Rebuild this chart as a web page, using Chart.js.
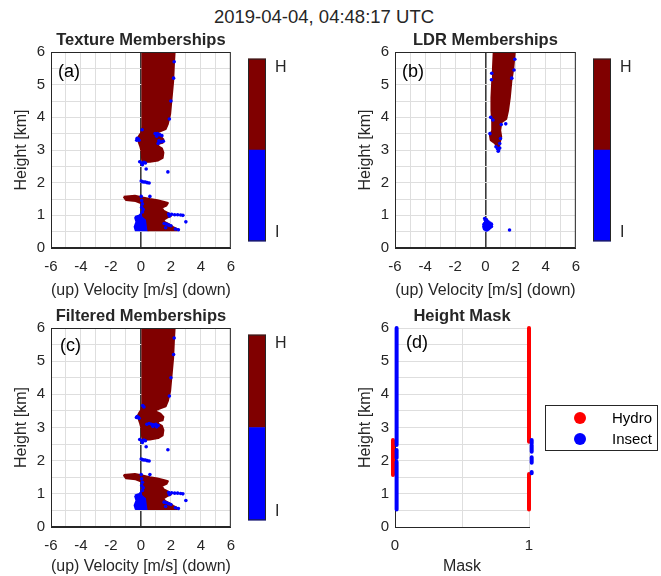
<!DOCTYPE html>
<html>
<head>
<meta charset="utf-8">
<script src="https://cdn.jsdelivr.net/npm/chart.js@4/dist/chart.umd.min.js"></script>
<style>
  body { margin: 0; width: 661px; height: 576px; position: relative; overflow: hidden; background: #fff;
         font-family: "Liberation Sans", Arial, sans-serif; }
  canvas { position: absolute; }
  #mainTitle { position: absolute; left: 0; width: 648px; top: 6px; text-align: center; font-size: 18.5px; color: #262626; }
</style>
</head>
<body>
<div id="mainTitle">2019-04-04, 04:48:17 UTC</div>
<canvas id="texture" width="245" height="300" style="left:0;top:0"></canvas>
<canvas id="textureBar" width="50" height="220" style="left:245px;top:40px"></canvas>
<canvas id="ldr" width="246" height="300" style="left:344px;top:0"></canvas>
<canvas id="ldrBar" width="50" height="220" style="left:590px;top:40px"></canvas>
<canvas id="filtered" width="245" height="300" style="left:0;top:276px"></canvas>
<canvas id="filteredBar" width="50" height="223" style="left:245px;top:316px"></canvas>
<canvas id="mask" width="317" height="300" style="left:344px;top:276px"></canvas>
<script>
'use strict';

// ---- data: [velocity m/s, height km] ----
// (a) texture memberships, hydro cloud outlines
var textureHydroUpper = [
  [0.1, 6.0], [2.25, 6.0], [2.2, 5.6], [2.15, 5.1], [2.05, 4.6], [1.95, 4.1], [1.8, 3.8], [1.65, 3.64], [1.2, 3.56], [0.9, 3.52],
  [1.05, 3.47], [1.3, 3.42], [1.5, 3.32], [1.45, 3.22], [1.1, 3.18], [1.2, 3.1], [1.4, 3.05], [1.5, 2.92], [1.45, 2.76],
  [1.15, 2.68], [0.6, 2.64], [0.15, 2.63], [0.08, 2.72], [0.05, 2.95], [-0.05, 3.12], [-0.15, 3.25], [-0.22, 3.35],
  [-0.1, 3.45], [0.05, 3.55], [0.1, 3.7], [0.1, 4.5], [0.1, 5.3], [0.1, 6.0]
];
var textureHydroLower = [
  [-1.15, 1.57], [-0.4, 1.6], [0.1, 1.55], [0.6, 1.5], [1.1, 1.46], [1.5, 1.42], [1.8, 1.38], [1.7, 1.3], [1.4, 1.24],
  [1.5, 1.14], [1.85, 1.06], [2.0, 0.98], [1.75, 0.93], [1.5, 0.86], [1.6, 0.79], [1.9, 0.72], [2.15, 0.64], [2.45, 0.57],
  [2.4, 0.54], [1.4, 0.54], [0.5, 0.54], [0.45, 0.7], [0.4, 0.88], [0.15, 0.98], [0.1, 1.15], [0.08, 1.36], [-0.35, 1.44],
  [-1.0, 1.47], [-1.15, 1.57]
];
var textureInsectPatch = [
  [-0.4, 0.95], [-0.1, 1.0], [0.1, 1.1], [0.2, 1.0], [0.45, 0.9], [0.5, 0.7], [0.45, 0.54], [-0.35, 0.54], [-0.42, 0.65],
  [-0.3, 0.8], [-0.4, 0.95]
];
var textureInsect = [
  [2.22, 5.7], [2.18, 5.2], [2.0, 4.5], [1.9, 3.95],
  [0.08, 3.62], [-0.25, 3.36], [-0.18, 3.34], [-0.28, 3.3], [-0.12, 3.3],
  [0.95, 3.5], [1.1, 3.5], [1.25, 3.47], [1.4, 3.44], [1.05, 3.42], [1.2, 3.28], [1.35, 3.25], [1.5, 3.27], [1.15, 3.2],
  [-0.08, 2.64], [0.05, 2.6], [0.2, 2.62], [0.3, 2.6], [0.1, 2.55], [0.35, 2.42], [1.8, 2.33],
  [0.02, 2.05], [0.1, 2.03], [0.2, 2.02], [0.3, 2.02], [0.42, 2.0], [0.55, 1.99],
  [0.6, 1.58], [0.02, 1.58], [0.05, 1.45], [0.1, 1.35], [0.05, 1.25], [0.15, 1.18], [0.1, 1.1],
  [1.85, 1.04], [2.05, 1.03], [2.25, 1.02], [2.45, 1.02], [2.65, 1.01], [2.8, 1.0], [1.9, 0.98],
  [3.0, 0.8], [1.55, 0.75], [1.7, 0.73], [1.85, 0.7], [2.0, 0.68], [1.65, 0.62], [2.3, 0.58], [2.5, 0.56]
];

// (b) LDR memberships
var ldrHydro = [
  [0.55, 6.0], [1.95, 6.0], [1.85, 5.5], [1.72, 5.1], [1.62, 4.6], [1.5, 4.2], [1.38, 3.95], [1.05, 3.84], [0.98, 3.6],
  [1.05, 3.4], [0.95, 3.22], [0.9, 3.1], [0.75, 3.08], [0.65, 3.2], [0.35, 3.3], [0.3, 3.45], [0.45, 3.6], [0.45, 3.85],
  [0.4, 4.2], [0.4, 4.6], [0.45, 5.1], [0.5, 5.5], [0.55, 6.0]
];
var ldrInsect = [
  [1.95, 5.78], [1.9, 5.45], [0.42, 5.35], [0.4, 5.15], [1.75, 5.2], [0.35, 4.0], [0.5, 3.92], [1.35, 3.8], [1.05, 3.78],
  [0.3, 3.5], [1.0, 3.35], [0.95, 3.2], [0.7, 3.1], [0.8, 3.04], [0.88, 3.0], [0.95, 3.06], [0.85, 2.96],
  [-0.05, 0.9], [0.0, 0.85], [0.05, 0.8], [-0.05, 0.75], [0.02, 0.7], [0.1, 0.72], [0.2, 0.75], [0.3, 0.76], [0.4, 0.73],
  [-0.1, 0.66], [0.0, 0.63], [0.1, 0.6], [0.2, 0.58], [0.3, 0.62], [0.35, 0.68], [-0.05, 0.58], [0.05, 0.55], [0.25, 0.67],
  [0.15, 0.69], [0.05, 0.66], [-0.08, 0.61], [0.12, 0.64], [0.22, 0.62], [0.3, 0.7], [0.0, 0.78], [-0.1, 0.72],
  [0.08, 0.86], [0.18, 0.8], [0.12, 0.56], [-0.02, 0.68], [0.4, 0.66], [1.6, 0.55]
];

// (c) filtered memberships: hydro outline unchanged from (a), insects differ
var filteredInsect = [
  [2.22, 5.7], [2.18, 5.2], [2.0, 4.5], [1.9, 3.95],
  [0.12, 3.66], [0.2, 3.62], [-0.25, 3.33], [-0.18, 3.31], [-0.3, 3.3], [-0.12, 3.28],
  [0.4, 3.1], [0.55, 3.12], [0.7, 3.1], [0.85, 3.08], [1.0, 3.1], [1.15, 3.06], [0.8, 3.03], [1.05, 3.02],
  [-0.08, 2.64], [0.05, 2.6], [0.2, 2.62], [0.3, 2.6], [0.1, 2.55], [0.35, 2.42], [1.8, 2.33],
  [0.02, 2.05], [0.1, 2.03], [0.2, 2.02], [0.3, 2.02], [0.42, 2.0], [0.55, 1.99],
  [0.6, 1.58], [0.02, 1.58], [0.05, 1.45], [0.1, 1.35], [0.05, 1.25], [0.15, 1.18], [0.1, 1.1],
  [1.85, 1.04], [2.05, 1.03], [2.25, 1.02], [2.45, 1.02], [2.65, 1.01], [2.8, 1.0], [1.9, 0.98],
  [3.0, 0.8], [1.55, 0.75], [1.7, 0.73], [1.85, 0.7], [2.0, 0.68], [1.65, 0.62], [2.3, 0.58], [2.5, 0.56]
];

// (d) height mask: height ranges [km] where each class has mask 0 / mask 1
var maskLevels = [0, 1];
var hydroMaskX = [-0.015, 1.0];
var insectMaskX = [0.012, 1.02];
var hydroMaskRanges = [[[1.57, 2.62]], [[0.53, 1.6], [2.57, 6.0]]];
var insectMaskRanges = [[[0.53, 1.97], [2.08, 2.32], [2.47, 6.0]], [[1.62, 1.66], [1.94, 2.1], [2.27, 2.47], [2.52, 2.62]]];

var classNames = ['I', 'H'];
var classTicks = [0.1, 1.9];
var heightTicks = [0, 6];
var velocityRange = [-6, 6];

var DARK = '#262626';
var GRID = '#dedede';
var HYDRO_RED = '#800000';
var INSECT_BLUE = '#0000ff';
var FONT = '"Liberation Sans", Arial, sans-serif';

Chart.defaults.font.family = FONT;
Chart.defaults.color = DARK;
Chart.defaults.animation = false;

function toPoints(list) {
  return list.map(function (p) { return {x: p[0], y: p[1]}; });
}

// mask 1 first, then mask 0, so the line controller draws every segment
function rangesToPoints(xs, ranges) {
  var pts = [];
  for (var i = ranges.length - 1; i >= 0; i--) {
    ranges[i].forEach(function (r) {
      pts.push({x: xs[i], y: r[0]}, {x: xs[i], y: r[1]}, {x: xs[i], y: null});
    });
  }
  return pts;
}

// titles, panel letters and the axes box
var panelText = {
  id: 'panelText',
  afterDraw: function (chart, args, opts) {
    var ctx = chart.ctx, a = chart.chartArea;
    ctx.save();
    if (opts.frame) {
      ctx.strokeStyle = DARK;
      ctx.lineWidth = 1;
      ctx.strokeRect(a.left + 0.5, a.top + 0.5, a.right - a.left - 1, a.bottom - a.top - 1);
    }
    ctx.fillStyle = DARK;
    if (opts.title) {
      ctx.font = 'bold 16.5px ' + FONT;
      ctx.textAlign = 'center';
      ctx.textBaseline = 'middle';
      ctx.fillText(opts.title, (a.left + a.right) / 2, a.top - 12);
    }
    if (opts.letter) {
      ctx.fillStyle = '#000';
      ctx.font = '18px ' + FONT;
      ctx.textAlign = 'left';
      ctx.textBaseline = 'middle';
      ctx.fillText(opts.letter, a.left + opts.letterDx, a.top + opts.letterDy);
    }
    ctx.restore();
  }
};

// boxed legend to the right of the mask panel
var maskLegend = {
  id: 'maskLegend',
  afterDraw: function (chart, args, opts) {
    if (!opts.display) return;
    var ctx = chart.ctx, a = chart.chartArea;
    var left = a.right + 16, w = 112, h = 45;
    var top = (a.top + a.bottom) / 2 - h / 2;
    ctx.save();
    ctx.fillStyle = '#fff';
    ctx.fillRect(left, top, w, h);
    ctx.strokeStyle = DARK;
    ctx.lineWidth = 1;
    ctx.strokeRect(Math.round(left) + 0.5, Math.round(top) + 0.5, w, h);
    ctx.font = '15px ' + FONT;
    ctx.textBaseline = 'middle';
    ctx.textAlign = 'left';
    chart.data.datasets.slice().reverse().forEach(function (ds, i) {
      var y = top + 13 + i * 21;
      ctx.fillStyle = ds.borderColor;
      ctx.beginPath();
      ctx.arc(left + 35, y, 6, 0, Math.PI * 2);
      ctx.fill();
      ctx.fillStyle = '#000';
      ctx.fillText(ds.label, left + 67, y + 1);
    });
    ctx.restore();
  }
};

function heightAxis() {
  return {
    type: 'linear', min: heightTicks[0], max: heightTicks[1],
    ticks: {stepSize: 0.5, autoSkip: false, padding: 6, font: {size: 15}, color: DARK,
      callback: function (v) { return Number.isInteger(v) ? v : ''; }},
    grid: {color: GRID, drawTicks: false},
    border: {color: DARK},
    title: {display: true, text: 'Height [km]', font: {size: 16}, color: DARK, padding: {top: 12, bottom: 0}},
    afterFit: function (s) { s.width = 51; }
  };
}

function velocityAxis(height) {
  return {
    type: 'linear', min: velocityRange[0], max: velocityRange[1],
    ticks: {stepSize: 1, autoSkip: false, maxRotation: 0, padding: 10, font: {size: 15}, color: DARK,
      callback: function (v) { return v % 2 === 0 ? v : ''; }},
    grid: {drawTicks: false,
      color: function (c) { return c.tick && c.tick.value === 0 ? '#3a3a3a' : GRID; },
      lineWidth: function (c) { return c.tick && c.tick.value === 0 ? 1.6 : 1; }},
    border: {color: DARK},
    title: {display: true, text: '(up) Velocity [m/s] (down)', font: {size: 16}, color: DARK, padding: {top: 0, bottom: 0}},
    afterFit: function (s) { s.height = height; }
  };
}

function polygon(list) {
  return {data: toPoints(list), showLine: true, fill: 'shape', tension: 0,
    backgroundColor: HYDRO_RED, borderColor: HYDRO_RED, borderWidth: 2, borderJoinStyle: 'round', pointRadius: 0, order: 1};
}

function membershipChart(id, hydroShapes, insectShape, insectPoints, title, letter, xHeight, padRight) {
  var datasets = [{data: toPoints(insectPoints), backgroundColor: INSECT_BLUE, borderWidth: 0, pointRadius: 1.8, order: 0}];
  hydroShapes.forEach(function (s) { datasets.push(polygon(s)); });
  if (insectShape) {
    var p = polygon(insectShape);
    p.backgroundColor = INSECT_BLUE;
    p.borderColor = INSECT_BLUE;
    p.order = 2;
    datasets.push(p);
  }
  return new Chart(document.getElementById(id), {
    type: 'scatter',
    data: {datasets: datasets},
    options: {
      responsive: false,
      layout: {padding: {left: 0, right: padRight, top: 52, bottom: 0}},
      plugins: {legend: {display: false}, tooltip: {enabled: false},
        panelText: {title: title, letter: letter.text, letterDx: letter.dx, letterDy: letter.dy, frame: true}},
      scales: {x: velocityAxis(xHeight), y: heightAxis()}
    },
    plugins: [panelText]
  });
}

function colorbar(id) {
  return new Chart(document.getElementById(id), {
    type: 'bar',
    data: {
      labels: [''],
      datasets: [
        {data: [1], backgroundColor: INSECT_BLUE, barPercentage: 1, categoryPercentage: 1},
        {data: [1], backgroundColor: HYDRO_RED, barPercentage: 1, categoryPercentage: 1}
      ]
    },
    options: {
      responsive: false,
      layout: {padding: {left: 3, right: 0, top: 12, bottom: 12}},
      plugins: {legend: {display: false}, tooltip: {enabled: false}, panelText: {frame: true}},
      scales: {
        x: {stacked: true, display: false},
        y: {stacked: true, position: 'right', min: 0, max: classNames.length,
          afterBuildTicks: function (s) { s.ticks = classTicks.map(function (v) { return {value: v}; }); },
          ticks: {padding: 9, font: {size: 16}, color: DARK,
            callback: function (v, i) { return classNames[i]; }},
          grid: {drawOnChartArea: false, drawTicks: false},
          border: {display: false},
          afterFit: function (s) { s.width = 29; }}
      }
    },
    plugins: [panelText]
  });
}

membershipChart('texture', [textureHydroUpper, textureHydroLower], textureInsectPatch, textureInsect,
  'Texture Memberships', {text: '(a)', dx: 7, dy: 20}, 52, 13);
colorbar('textureBar');

membershipChart('ldr', [ldrHydro], null, ldrInsect,
  'LDR Memberships', {text: '(b)', dx: 7, dy: 20}, 52, 13);
colorbar('ldrBar');

membershipChart('filtered', [textureHydroUpper, textureHydroLower], textureInsectPatch, filteredInsect,
  'Filtered Memberships', {text: '(c)', dx: 9, dy: 18}, 49, 13);
colorbar('filteredBar');

new Chart(document.getElementById('mask'), {
  type: 'scatter',
  data: {
    datasets: [
      {label: 'Insect', data: rangesToPoints(insectMaskX, insectMaskRanges), showLine: true, spanGaps: false,
        borderColor: INSECT_BLUE, backgroundColor: INSECT_BLUE, borderWidth: 4, borderCapStyle: 'round',
        pointRadius: 0, clip: false},
      {label: 'Hydro', data: rangesToPoints(hydroMaskX, hydroMaskRanges), showLine: true, spanGaps: false,
        borderColor: '#ff0000', backgroundColor: '#ff0000', borderWidth: 4, borderCapStyle: 'round',
        pointRadius: 0, clip: false}
    ]
  },
  options: {
    responsive: false,
    layout: {padding: {left: 0, right: 132, top: 52, bottom: 0}},
    plugins: {legend: {display: false}, tooltip: {enabled: false},
      panelText: {title: 'Height Mask', letter: '(d)', letterDx: 11, letterDy: 15, frame: false},
      maskLegend: {display: true}},
    scales: {
      x: {type: 'linear', min: maskLevels[0], max: maskLevels[1],
        ticks: {stepSize: 0.5, autoSkip: false, maxRotation: 0, padding: 10, font: {size: 15}, color: DARK,
          callback: function (v) { return maskLevels.indexOf(v) >= 0 ? v : ''; }},
        grid: {color: GRID, drawTicks: false},
        border: {color: DARK},
        title: {display: true, text: 'Mask', font: {size: 16}, color: DARK, padding: {top: 0, bottom: 0}},
        afterFit: function (s) { s.height = 49; }},
      y: heightAxis()
    }
  },
  plugins: [panelText, maskLegend]
});
</script>
</body>
</html>
